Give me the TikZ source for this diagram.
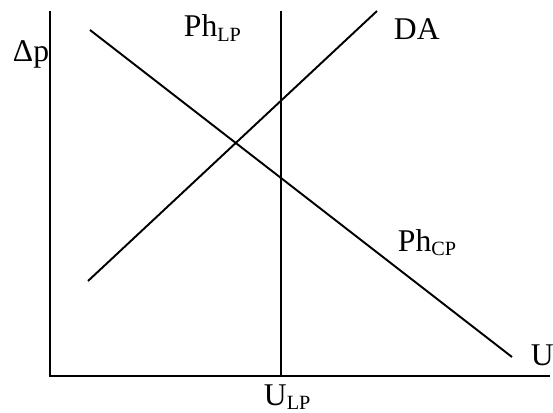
\documentclass[tikz,border=0pt]{standalone}
\usepackage{fontspec}
\setmainfont{Liberation Serif}
\usetikzlibrary{positioning}
\newcommand{\lowidx}[1]{\raisebox{-2.5pt}{\fontsize{11.5}{12}\selectfont #1}}

\begin{document}
\begin{tikzpicture}[x=0.02cm, y=-0.02cm, line width=1.1pt,
    lbl/.style={font=\fontsize{18}{21}\selectfont, inner sep=0pt}]
    \useasboundingbox (0,0) rectangle (553,412);

    % Achsen und Kurven
    \coordinate (origin) at (50,376);
    \coordinate (ytop)   at (50,11);
    \coordinate (xend)   at (550,376);
    \coordinate (cpA) at (90,30);
    \coordinate (cpB) at (512,357);
    \coordinate (daA) at (88,281);
    \coordinate (daB) at (377,11);
    \coordinate (lpA) at (281,11);
    \coordinate (lpB) at (281,376);

    \draw (ytop) -- (origin) -- (xend);
    \draw (cpA) -- (cpB);
    \draw (daA) -- (daB);
    \draw (lpA) -- (lpB);

    % Beschriftungen
    \node[lbl, anchor=base west] (dp)   at (12,62)  {Δp};
    \node[lbl, anchor=base west] (phlp) at (183,37) {Ph\lowidx{LP}};
    \node[lbl, anchor=base west] (da)   at (393,40) {DA};
    \node[lbl, anchor=base west] (phcp) at (397,251) {Ph\lowidx{CP}};
    \node[lbl, anchor=base west] (u)    at (530,365) {U};
    \node[lbl, anchor=base west] (ulp)  at (263,405) {U\lowidx{LP}};
\end{tikzpicture}
\end{document}
